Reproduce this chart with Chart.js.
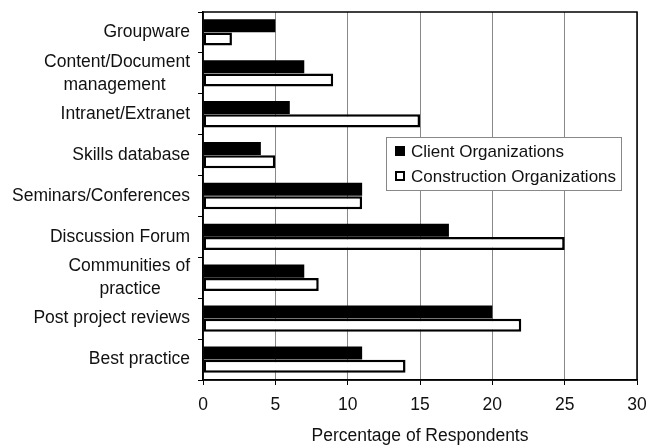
<!DOCTYPE html>
<html>
<head>
<meta charset="utf-8">
<script src="https://cdn.jsdelivr.net/npm/chart.js@4.4.1/dist/chart.umd.min.js"></script>
<style>
  html, body { margin: 0; padding: 0; background: #fff; }
  #wrap { width: 647px; height: 446px; }
</style>
</head>
<body>
<div id="wrap"><canvas id="myChart" width="647" height="446"></canvas></div>
<script>
// Data
var categories = [
    'Groupware',
    ['Content/Document', 'management'],
    'Intranet/Extranet',
    'Skills database',
    'Seminars/Conferences',
    'Discussion Forum',
    ['Communities of', 'practice'],
    'Post project reviews',
    'Best practice'
];
var clientValues = [5, 7, 6, 4, 11, 17, 7, 20, 11];
var constructionValues = [2, 9, 15, 5, 11, 25, 8, 22, 14];
var xTicks = [0, 5, 10, 15, 20, 25, 30];

var font = 'Liberation Sans, Arial, sans-serif';
var fontSize = 17.5;

// center the lines of a wrapped label (chart.js right-aligns each line)
var measureCtx = document.createElement('canvas').getContext('2d');
measureCtx.font = fontSize + 'px ' + font;
function centerLines(label) {
    if (!Array.isArray(label)) return label;
    var widths = label.map(function (s) { return measureCtx.measureText(s).width; });
    var maxW = Math.max.apply(null, widths);
    var sp = measureCtx.measureText(' ').width;
    return label.map(function (s, i) {
        var n = Math.round((maxW - widths[i]) / 2 / sp);
        return s + ' '.repeat(n);
    });
}

// plot frame + legend inside the chart area
var framePlugin = {
    id: 'frame',
    afterDatasetsDraw: function (chart) {
        var ctx = chart.ctx, a = chart.chartArea;
        ctx.save();
        ctx.strokeStyle = '#000';
        ctx.lineWidth = 1.5;
        ctx.strokeRect(a.left, a.top, a.right - a.left, a.bottom - a.top);

        // legend box
        var bx = Math.round(a.left + 183), by = Math.round(a.top + 125), bw = 235, bh = 53;
        ctx.fillStyle = '#fff';
        ctx.fillRect(bx, by, bw, bh);
        ctx.strokeStyle = '#888';
        ctx.lineWidth = 1;
        ctx.strokeRect(bx + 0.5, by + 0.5, bw, bh);

        var items = chart.data.datasets;
        ctx.font = '17px ' + font;
        ctx.textBaseline = 'middle';
        items.forEach(function (ds, i) {
            var y = by + 14 + i * 25;
            if (ds.backgroundColor === '#000') {
                ctx.fillStyle = '#000';
                ctx.fillRect(bx + 9, y - 5, 10, 10);
            } else {
                ctx.fillStyle = '#fff';
                ctx.fillRect(bx + 9, y - 5, 10, 10);
                ctx.strokeStyle = '#000';
                ctx.lineWidth = 2;
                ctx.strokeRect(bx + 10, y - 4, 8, 8);
            }
            ctx.fillStyle = '#111';
            ctx.fillText(ds.label, bx + 25, y + 1);
        });
        ctx.restore();
    }
};

new Chart("myChart", {
    type: "bar",
    plugins: [framePlugin],
    data: {
        labels: categories,
        datasets: [{
            label: 'Client Organizations',
            data: clientValues,
            backgroundColor: '#000',
            borderColor: '#000',
            borderWidth: 0,
            barPercentage: 0.98,
            categoryPercentage: 0.65
        }, {
            label: 'Construction Organizations',
            data: constructionValues,
            backgroundColor: '#fff',
            borderColor: '#000',
            borderWidth: 2.5,
            borderSkipped: false,
            barPercentage: 0.98,
            categoryPercentage: 0.65
        }]
    },
    options: {
        indexAxis: 'y',
        responsive: false,
        animation: false,
        layout: { padding: { top: 12, right: 10, left: 0, bottom: 0 } },
        plugins: {
            legend: { display: false },
            tooltip: { enabled: false }
        },
        scales: {
            x: {
                min: 0,
                max: 30,
                afterBuildTicks: function (scale) {
                    scale.ticks = xTicks.map(function (v) { return { value: v }; });
                },
                afterFit: function (scale) {
                    scale.height = 66;
                    scale.paddingLeft = 0;
                    scale.paddingRight = 0;
                },
                grid: {
                    color: '#888',
                    lineWidth: 1,
                    tickLength: 5,
                    tickColor: '#000'
                },
                border: { color: '#000', width: 1.5 },
                ticks: {
                    color: '#111',
                    padding: 10,
                    font: { family: font, size: fontSize }
                },
                title: {
                    display: true,
                    text: 'Percentage of Respondents',
                    color: '#111',
                    padding: { top: 6, bottom: -1 },
                    font: { family: font, size: fontSize }
                }
            },
            y: {
                afterFit: function (scale) {
                    scale.width = 203;
                    scale.paddingTop = 0;
                    scale.paddingBottom = 0;
                },
                grid: {
                    drawOnChartArea: false,
                    tickLength: 5,
                    color: '#000',
                    offset: true
                },
                border: { color: '#000', width: 1.5 },
                ticks: {
                    autoSkip: false,
                    color: '#111',
                    padding: 8,
                    font: { family: font, size: fontSize, lineHeight: 1.3 },
                    callback: function (value) {
                        return centerLines(this.getLabelForValue(value));
                    }
                }
            }
        }
    }
});
</script>
</body>
</html>
